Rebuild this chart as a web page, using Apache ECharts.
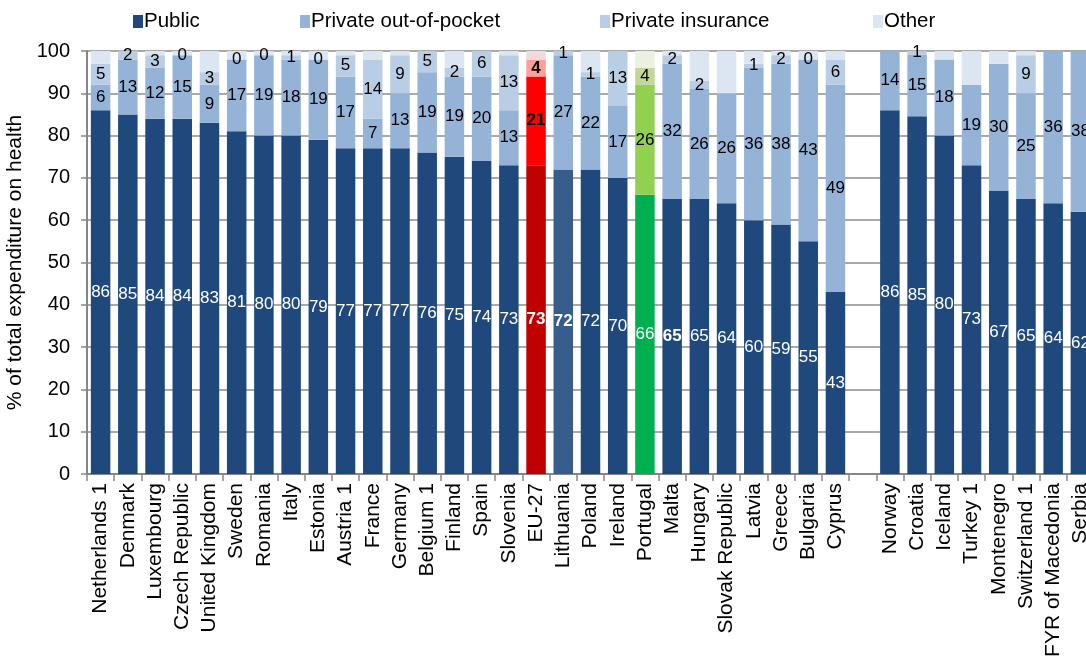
<!DOCTYPE html>
<html>
<head>
<meta charset="utf-8">
<script src="https://cdn.jsdelivr.net/npm/echarts@6/dist/echarts.min.js"></script>
<style>
  html, body { margin: 0; padding: 0; background: #fff; }
  #chart { width: 1086px; height: 662px; }
</style>
</head>
<body>
<div id="chart"></div>
<script>
// Health expenditure by source of funding, % of total
const countries = [
  'Netherlands 1', 'Denmark', 'Luxembourg', 'Czech Republic', 'United Kingdom', 'Sweden',
  'Romania', 'Italy', 'Estonia', 'Austria 1', 'France', 'Germany', 'Belgium 1', 'Finland',
  'Spain', 'Slovenia', 'EU-27', 'Lithuania', 'Poland', 'Ireland', 'Portugal', 'Malta',
  'Hungary', 'Slovak Republic', 'Latvia', 'Greece', 'Bulgaria', 'Cyprus', '',
  'Norway', 'Croatia', 'Iceland', 'Turkey 1', 'Montenegro', 'Switzerland 1',
  'FYR of Macedonia', 'Serbia'
];
const publicShare = [
  86, 85, 84, 84, 83, 81, 80, 80, 79, 77, 77, 77, 76, 75, 74, 73, 73, 72, 72, 70, 66, 65,
  65, 64, 60, 59, 55, 43, null, 86, 84.6, 80, 73, 67, 65, 64, 62
];
const privateOutOfPocket = [
  6, 13, 12, 15, 9, 17, 19, 18, 19, 17, 7, 13, 19, 19, 20, 13, 21, 27, 22, 17, 26, 32,
  26, 26, 36, 38, 43, 49, null, 14, 14.6, 18, 19, 30, 25, 36, 38
];
const privateInsurance = [
  5, 2, 3, 0, 3, 0, 0, 1, 0, 5, 14, 9, 5, 2, 6, 13, 4, 1, 1, 13, 4, 2,
  2, null, 1, 2, 0, 6, null, null, 0.8, null, null, null, 9, null, null
];
const otherShare = [
  3, 0, 1, 1, 5, 2, 1, 1, 2, 1, 2, 1, 0, 4, 0, 1, 2, 0, 5, 0, 4, 1,
  7, 10, 3, 1, 2, 2, null, null, 0, 2, 8, 3, 1, 0, 0
];

const seriesNames = ['Public', 'Private out-of-pocket', 'Private insurance', 'Other'];
const baseColors = ['#1F497D', '#95B3D7', '#B9CDE5', '#DCE6F2'];
// highlighted bars: EU average in reds, Portugal in greens
const highlight = {
  'EU-27': { colors: ['#C00000', '#FF0000', '#FF9F9A', '#F2DCDB'], bold: true },
  'Portugal': { colors: ['#00B050', '#92D050', '#C3D69B', '#EBF1DE'], bold: false },
  'Lithuania': { colors: ['#365D8C', null, null, null], bold: false, boldFirst: true },
  'Malta': { colors: [null, null, null, null], bold: false, boldFirst: true }
};

const font = 'Liberation Sans, Arial, sans-serif';

function buildData(values, s) {
  return values.map((v, i) => {
    const name = countries[i];
    const h = highlight[name];
    const item = { value: v };
    if (h) {
      if (h.colors[s]) item.itemStyle = { color: h.colors[s] };
      if (h.bold || (h.boldFirst && s === 0)) item.label = { fontWeight: 'bold' };
    }
    return item;
  });
}

const valueArrays = [publicShare, privateOutOfPocket, privateInsurance, otherShare];

const series = valueArrays.map((vals, s) => ({
  name: seriesNames[s],
  type: 'bar',
  stack: 'total',
  barWidth: 19.5,
  itemStyle: { color: baseColors[s] },
  label: {
    show: s < 3,
    position: 'inside',
    fontFamily: font,
    fontSize: 17,
    color: s === 0 ? '#fff' : '#000',
    formatter: p => String(Math.round(p.value))
  },
  emphasis: { disabled: true },
  data: buildData(vals, s)
}));

const legendLefts = [133, 300, 600, 873];
const legends = seriesNames.map((n, i) => ({
  data: [n],
  left: legendLefts[i],
  top: 11,
  padding: 0,
  itemWidth: 10,
  itemHeight: 13,
  itemGap: 0,
  selectedMode: false,
  icon: 'rect',
  textStyle: { fontFamily: font, fontSize: 20.5, color: '#000', padding: [0, 0, 0, -4] }
}));

const chart = echarts.init(document.getElementById('chart'), null, { renderer: 'canvas' });
chart.setOption({
  animation: false,
  backgroundColor: '#fff',
  legend: legends,
  grid: {
    left: 87, top: 51, bottom: 188, width: 1007,
    containLabel: false, outerBoundsMode: 'none'
  },
  xAxis: {
    type: 'category',
    data: countries,
    axisLine: { lineStyle: { color: '#868686', width: 2 } },
    axisTick: { show: true, length: 7, lineStyle: { color: '#868686', width: 1.5 } },
    axisLabel: {
      interval: 0,
      rotate: 90,
      margin: 9,
      fontFamily: font,
      fontSize: 21,
      color: '#000'
    }
  },
  yAxis: {
    type: 'value',
    min: 0,
    max: 100,
    interval: 10,
    name: '% of total expenditure on health',
    nameLocation: 'middle',
    nameRotate: 90,
    nameGap: 57,
    nameTextStyle: { fontFamily: font, fontSize: 21, color: '#000' },
    axisLine: { show: true, lineStyle: { color: '#868686', width: 2 } },
    axisTick: { show: true, length: 6, lineStyle: { color: '#868686', width: 1.5 } },
    axisLabel: { fontFamily: font, fontSize: 20, color: '#000', margin: 17 },
    splitLine: { lineStyle: { color: '#8C8C8C', width: 1.5 } }
  },
  series: series
});
</script>
</body>
</html>
